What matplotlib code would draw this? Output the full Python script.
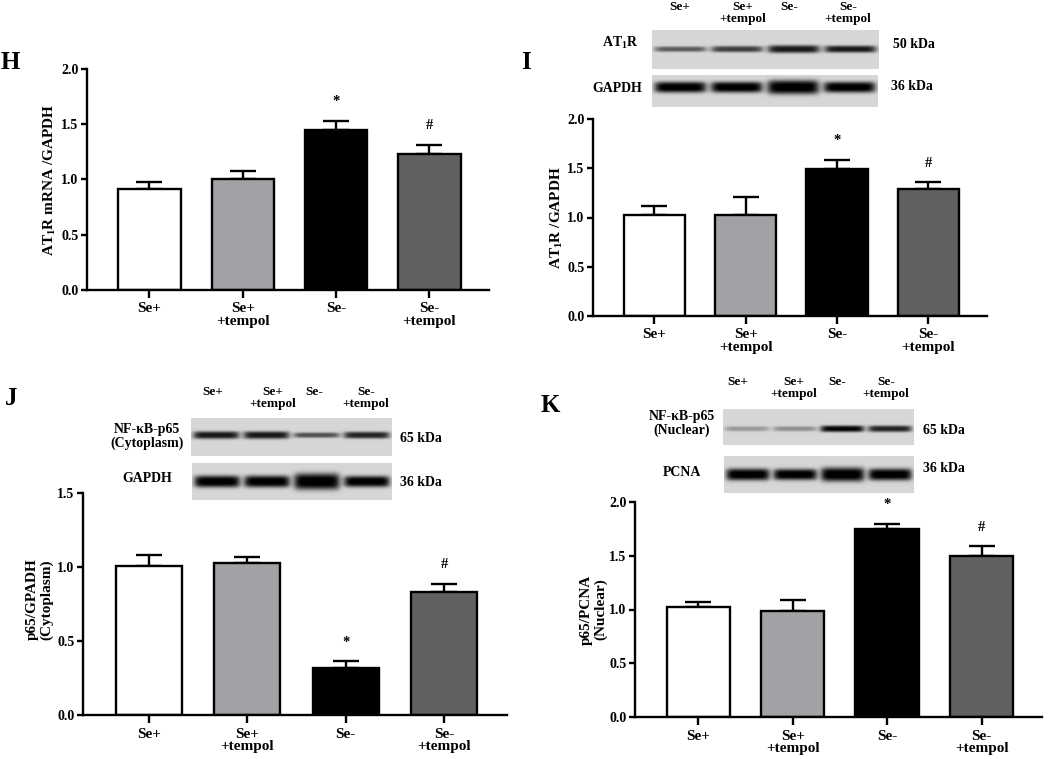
import numpy as np
import matplotlib
matplotlib.use("Agg")
import matplotlib.pyplot as plt

plt.rcParams['font.family'] = ['Liberation Serif', 'DejaVu Serif']
plt.rcParams['font.weight'] = 'bold'
plt.rcParams['mathtext.fontset'] = 'custom'
plt.rcParams['mathtext.rm'] = 'Liberation Serif:bold'
plt.rcParams['mathtext.bf'] = 'Liberation Serif:bold'
plt.rcParams['mathtext.default'] = 'bf'

# ---------------- data ----------------
groups = ["Se+", "Se+\n+tempol", "Se-", "Se-\n+tempol"]
bar_colors = ["#ffffff", "#a2a2a6", "#000000", "#616161"]
markers = ["", "", "*", "#"]

h_vals = [0.91, 1.00, 1.45, 1.23]
h_err = [0.07, 0.08, 0.08, 0.085]

i_vals = [1.03, 1.03, 1.495, 1.29]
i_err = [0.09, 0.175, 0.09, 0.07]

j_vals = [1.01, 1.03, 0.315, 0.83]
j_err = [0.07, 0.04, 0.047, 0.058]

k_vals = [1.02, 0.99, 1.75, 1.495]
k_err = [0.047, 0.10, 0.046, 0.094]

# blot band strengths (relative darkness) and thickness
i_at1r_band = [0.55, 0.68, 0.85, 0.85]
i_at1r_thick = [0.07, 0.08, 0.10, 0.09]
i_gapdh_band = [1.0, 1.0, 1.0, 1.0]
i_gapdh_thick = [0.17, 0.17, 0.22, 0.17]

j_p65_band = [0.85, 0.85, 0.6, 0.8]
j_p65_thick = [0.10, 0.10, 0.07, 0.09]
j_gapdh_band = [1.0, 1.0, 1.0, 1.0]
j_gapdh_thick = [0.16, 0.16, 0.22, 0.15]

k_p65_band = [0.28, 0.32, 0.95, 0.8]
k_p65_thick = [0.07, 0.07, 0.09, 0.09]
k_pcna_band = [1.0, 1.0, 1.0, 1.0]
k_pcna_thick = [0.16, 0.15, 0.19, 0.16]

W, H = 1050, 759
fig = plt.figure(figsize=(W / 100, H / 100), dpi=100)


def rect(l, t, r, b):
    return [l / W, 1 - b / H, (r - l) / W, (b - t) / H]


def bar_panel(box, vals, errs, ylim, yticks, ylabel, label_coords):
    ax = fig.add_axes(rect(*box))
    x = np.arange(len(vals))
    ax.bar(x, vals, width=0.67, color=bar_colors, edgecolor='black', linewidth=1.7, zorder=2)
    lower = np.zeros(len(errs))
    ax.errorbar(x, vals, yerr=[lower, errs], fmt='none', ecolor='black',
                elinewidth=1.7, capsize=9.5, capthick=1.7, zorder=1)
    for xi, v, e, m in zip(x, vals, errs, markers):
        if m:
            ax.annotate(m, (xi, v + e), xytext=(0, 9), textcoords='offset points',
                        ha='center', va='bottom', fontsize=10.5, fontweight='bold')
    ax.set_xlim(-0.67, len(vals) - 1 + 0.64)
    ax.set_ylim(*ylim)
    ax.set_yticks(yticks)
    ax.set_yticklabels([f"{t:.1f}" for t in yticks], fontsize=10, fontweight='bold')
    ax.set_xticks(x)
    ax.set_xticklabels(groups, fontsize=11, fontweight='bold', linespacing=0.98)
    for s in ['top', 'right']:
        ax.spines[s].set_visible(False)
    for s in ['left', 'bottom']:
        ax.spines[s].set_linewidth(1.7)
    ax.tick_params(axis='both', direction='out', width=1.7, length=4, pad=2)
    ax.tick_params(axis='x', length=6, pad=3)
    ax.set_ylabel(ylabel, fontsize=11, fontweight='bold', linespacing=1.05)
    ax.yaxis.set_label_coords(*label_coords)
    return ax


def blot(box, bands, thick, ypos):
    ax = fig.add_axes(rect(*box))
    nx, ny = 420, 90
    xs = np.linspace(0, 4, nx)
    ys = np.linspace(0, 1, ny)
    X, Y = np.meshgrid(xs, ys)
    img = np.full(X.shape, 0.84)
    for i, (s, t) in enumerate(zip(bands, thick)):
        px = np.exp(-((X - (i + 0.5)) / 0.46) ** 8)
        py = np.exp(-np.abs((Y - ypos) / t) ** 3)
        img = img - 0.88 * s * px * py
    img = np.clip(img, 0, 1)
    ax.imshow(img, cmap='gray', vmin=0, vmax=1, extent=(0, 4, 1, 0), aspect='auto',
              interpolation='bilinear')
    ax.set_xticks([])
    ax.set_yticks([])
    for s in ax.spines.values():
        s.set_visible(False)
    return ax


def ftext(x, y, s, size=9, ha='center', va='center', **kw):
    fig.text(x / W, 1 - y / H, s, fontsize=size, ha=ha, va=va, fontweight='bold', **kw)


def lane_labels(xs, ytop):
    for xx, g in zip(xs, groups):
        ftext(xx, ytop, g, size=9.5, va='top', linespacing=0.98)


# ---------------- Panel H ----------------
bar_panel((87, 69, 489, 290), h_vals, h_err, (0, 2.0), [0, 0.5, 1.0, 1.5, 2.0],
          "AT$_1$R mRNA /GAPDH", (-0.072, 0.5))
ftext(1, 51, "H", size=18, ha='left', va='top')

# ---------------- Panel I ----------------
bar_panel((593, 119, 987, 316), i_vals, i_err, (0, 2.0), [0, 0.5, 1.0, 1.5, 2.0],
          "AT$_1$R /GAPDH", (-0.071, 0.5))
ftext(521, 51, "I", size=18, ha='left', va='top')
blot((652, 30, 879, 69), i_at1r_band, i_at1r_thick, 0.49)
blot((652, 75, 878, 107), i_gapdh_band, i_gapdh_thick, 0.38)
lane_labels([680, 743, 789, 848], 1)
ftext(620, 43, "AT$_1$R", size=10)
ftext(617, 88, "GAPDH", size=10)
ftext(893, 44, "50 kDa", size=10, ha='left')
ftext(891, 87, "36 kDa", size=10, ha='left')

# ---------------- Panel J ----------------
bar_panel((83, 493, 507, 715), j_vals, j_err, (0, 1.5), [0, 0.5, 1.0, 1.5],
          "p65/GPADH\n(Cytoplasm)", (-0.071, 0.52))
ftext(5, 387, "J", size=18, ha='left', va='top')
blot((191, 418, 392, 456), j_p65_band, j_p65_thick, 0.45)
blot((192, 463, 392, 500), j_gapdh_band, j_gapdh_thick, 0.5)
lane_labels([213, 273, 314, 366], 386)
ftext(147, 436, "NF-κB-p65\n(Cytoplasm)", size=10, linespacing=1.05)
ftext(147, 479, "GAPDH", size=10)
ftext(400, 438, "65 kDa", size=10, ha='left')
ftext(400, 483, "36 kDa", size=10, ha='left')

# ---------------- Panel K ----------------
bar_panel((635, 502, 1042, 717), k_vals, k_err, (0, 2.0), [0, 0.5, 1.0, 1.5, 2.0],
          "p65/PCNA\n(Nuclear)", (-0.069, 0.5))
ftext(541, 394, "K", size=18, ha='left', va='top')
blot((723, 409, 914, 445), k_p65_band, k_p65_thick, 0.55)
blot((724, 456, 914, 493), k_pcna_band, k_pcna_thick, 0.5)
lane_labels([738, 794, 837, 886], 376)
ftext(682, 424, "NF-κB-p65\n(Nuclear)", size=10, linespacing=1.05)
ftext(682, 472, "PCNA", size=10)
ftext(923, 430, "65 kDa", size=10, ha='left')
ftext(923, 469, "36 kDa", size=10, ha='left')

fig.savefig("out.png", dpi=100, facecolor='white')
